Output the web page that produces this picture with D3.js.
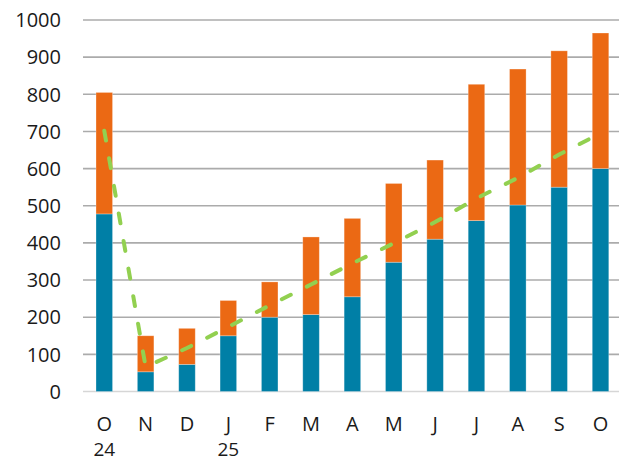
<!DOCTYPE html>
<html>
<head>
<meta charset="utf-8">
<script src="https://cdn.jsdelivr.net/npm/d3@7"></script>
<style>
  body { margin: 0; background: #fff; }
  text { font-family: "Open Sans", sans-serif; fill: #1a1a1a; }
</style>
</head>
<body>
<div id="chart"></div>
<script>
// data
var months = ["O", "N", "D", "J", "F", "M", "A", "M", "J", "J", "A", "S", "O"];
var years = ["24", "", "", "25", "", "", "", "", "", "", "", "", ""];
var blue = [478, 53, 73, 150, 200, 207, 255, 348, 410, 460, 502, 550, 600];
var total = [805, 150, 170, 245, 295, 416, 466, 560, 623, 827, 868, 917, 965];
var trend = [702, 66, 117, 174, 232, 288, 345, 399, 456, 520, 575, 638, 695];
var yTicks = [0, 100, 200, 300, 400, 500, 600, 700, 800, 900, 1000];

var width = 619, height = 462;

var svg = d3.select("#chart")
            .append("svg")
            .attr("width", width)
            .attr("height", height);

var idx = months.map(function(d, i) { return i; });

var xScale = d3.scaleBand()
               .domain(idx)
               .range([83.6, 621.2])
               .paddingInner(0.6)
               .paddingOuter(0.3);

var yScale = d3.scaleLinear()
               .domain([0, 1000])
               .range([391.5, 20]);

// gridlines
svg.append("g")
   .selectAll("line")
   .data(yTicks.slice(1))
   .enter().append("line")
   .attr("x1", 83)
   .attr("x2", width)
   .attr("y1", function(d) { return yScale(d); })
   .attr("y2", function(d) { return yScale(d); })
   .attr("stroke", "#ababab")
   .attr("stroke-width", 1.6);

// x baseline
svg.append("line")
   .attr("x1", 83)
   .attr("x2", width)
   .attr("y1", yScale(0))
   .attr("y2", yScale(0))
   .attr("stroke", "#d6d6d6")
   .attr("stroke-width", 1.6);

// y labels
svg.append("g")
   .selectAll("text")
   .data(yTicks)
   .enter().append("text")
   .attr("x", 61)
   .attr("y", function(d) { return yScale(d); })
   .attr("dy", "0.36em")
   .attr("text-anchor", "end")
   .style("font-size", "20px")
   .text(function(d) { return d; });

// blue bars
svg.append("g")
   .selectAll("rect")
   .data(idx)
   .enter().append("rect")
   .attr("x", function(i) { return xScale(i); })
   .attr("width", xScale.bandwidth())
   .attr("y", function(i) { return yScale(blue[i]); })
   .attr("height", function(i) { return yScale(0) - yScale(blue[i]); })
   .attr("fill", "#007fa6")
   .attr("stroke", "rgba(255,255,255,0.35)")
   .attr("stroke-width", 0.8);

// orange bars on top
svg.append("g")
   .selectAll("rect")
   .data(idx)
   .enter().append("rect")
   .attr("x", function(i) { return xScale(i); })
   .attr("width", xScale.bandwidth())
   .attr("y", function(i) { return yScale(total[i]); })
   .attr("height", function(i) { return yScale(blue[i]) - yScale(total[i]); })
   .attr("fill", "#eb6914")
   .attr("stroke", "rgba(255,255,255,0.35)")
   .attr("stroke-width", 0.8);

// dashed line
var line = d3.line()
             .x(function(d, i) { return xScale(i) + xScale.bandwidth() / 2; })
             .y(function(d) { return yScale(d); });

svg.append("path")
   .datum(trend)
   .attr("d", line)
   .attr("fill", "none")
   .attr("stroke", "#92d050")
   .attr("stroke-width", 4)
   .attr("stroke-linecap", "round")
   .attr("stroke-dasharray", "10,18");

// x labels
var xl = svg.append("g")
            .selectAll("g")
            .data(idx)
            .enter().append("g")
            .attr("transform", function(i) { return "translate(" + (xScale(i) + xScale.bandwidth() / 2) + ",0)"; });

xl.append("text")
  .attr("y", 430.5)
  .attr("text-anchor", "middle")
  .style("font-size", "20px")
  .text(function(i) { return months[i]; });

xl.append("text")
  .attr("y", 456)
  .attr("text-anchor", "middle")
  .style("font-size", "19px")
  .text(function(i) { return years[i]; });
</script>
</body>
</html>
